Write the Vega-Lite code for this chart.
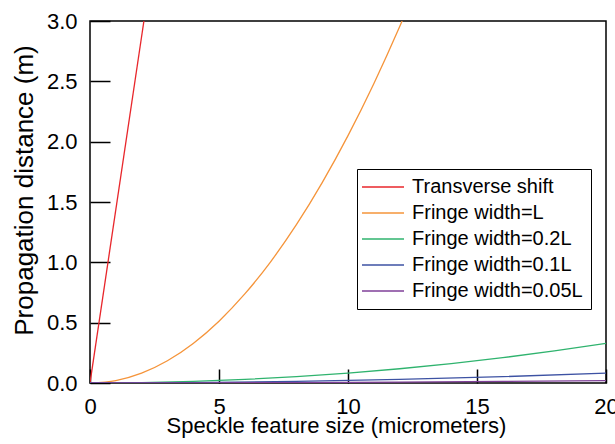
{
  "$schema": "https://vega.github.io/schema/vega-lite/v6.json",
  "width": 516,
  "height": 362,
  "autosize": "none",
  "padding": {"left": 90, "top": 21, "right": 9, "bottom": 61},
  "background": "white",
  "config": {
    "font": "Liberation Sans",
    "view": {"stroke": "black", "strokeWidth": 1.5},
    "axis": {"labelColor": "black", "titleColor": "black", "labelFont": "Liberation Sans", "titleFont": "Liberation Sans", "titleFontWeight": "normal"}
  },
  "data": {"values": [
    {"series": "Transverse shift", "x": 0, "y": 0},
    {"series": "Transverse shift", "x": 2.09, "y": 3.0},
    {"series": "Fringe width=L", "x": 0, "y": 0},
    {"series": "Fringe width=L", "x": 1, "y": 0.0205},
    {"series": "Fringe width=L", "x": 2, "y": 0.082},
    {"series": "Fringe width=L", "x": 3, "y": 0.1845},
    {"series": "Fringe width=L", "x": 4, "y": 0.328},
    {"series": "Fringe width=L", "x": 5, "y": 0.5125},
    {"series": "Fringe width=L", "x": 6, "y": 0.738},
    {"series": "Fringe width=L", "x": 7, "y": 1.0045},
    {"series": "Fringe width=L", "x": 8, "y": 1.312},
    {"series": "Fringe width=L", "x": 9, "y": 1.6605},
    {"series": "Fringe width=L", "x": 10, "y": 2.05},
    {"series": "Fringe width=L", "x": 11, "y": 2.4805},
    {"series": "Fringe width=L", "x": 12, "y": 2.952},
    {"series": "Fringe width=L", "x": 13, "y": 3.4645},
    {"series": "Fringe width=0.2L", "x": 0, "y": 0},
    {"series": "Fringe width=0.2L", "x": 2, "y": 0.00328},
    {"series": "Fringe width=0.2L", "x": 4, "y": 0.01312},
    {"series": "Fringe width=0.2L", "x": 6, "y": 0.02952},
    {"series": "Fringe width=0.2L", "x": 8, "y": 0.05248},
    {"series": "Fringe width=0.2L", "x": 10, "y": 0.082},
    {"series": "Fringe width=0.2L", "x": 12, "y": 0.11808},
    {"series": "Fringe width=0.2L", "x": 14, "y": 0.16072},
    {"series": "Fringe width=0.2L", "x": 16, "y": 0.20992},
    {"series": "Fringe width=0.2L", "x": 18, "y": 0.26568},
    {"series": "Fringe width=0.2L", "x": 20, "y": 0.328},
    {"series": "Fringe width=0.1L", "x": 0, "y": 0},
    {"series": "Fringe width=0.1L", "x": 4, "y": 0.00328},
    {"series": "Fringe width=0.1L", "x": 8, "y": 0.01312},
    {"series": "Fringe width=0.1L", "x": 12, "y": 0.02952},
    {"series": "Fringe width=0.1L", "x": 16, "y": 0.05248},
    {"series": "Fringe width=0.1L", "x": 20, "y": 0.082},
    {"series": "Fringe width=0.05L", "x": 0, "y": 0},
    {"series": "Fringe width=0.05L", "x": 4, "y": 0.00082},
    {"series": "Fringe width=0.05L", "x": 8, "y": 0.00328},
    {"series": "Fringe width=0.05L", "x": 12, "y": 0.00738},
    {"series": "Fringe width=0.05L", "x": 16, "y": 0.01312},
    {"series": "Fringe width=0.05L", "x": 20, "y": 0.0205}
  ]},
  "mark": {"type": "line", "clip": true, "strokeWidth": 1.3, "interpolate": "monotone"},
  "encoding": {
    "x": {"field": "x", "type": "quantitative", "scale": {"domain": [0, 20], "nice": false, "zero": false},
      "axis": {"orient": "bottom", "offset": -14, "values": [0, 5, 10, 15, 20], "grid": false, "tickSize": 14, "tickColor": "black", "tickWidth": 1.5, "domain": false, "labelPadding": 13, "labelFontSize": 22, "labelBaseline": "top", "labelFlush": false,
        "title": "Speckle feature size (micrometers)", "titleFontSize": 22, "titleBaseline": "alphabetic", "titleX": 246, "titleY": 63, "titlePadding": 0}},
    "y": {"field": "y", "type": "quantitative", "scale": {"domain": [0, 3], "nice": false},
      "axis": {"offset": -20, "tickCount": 6, "format": ".1f", "gridOpacity": 0, "tickSize": 20, "tickColor": "black", "tickWidth": 1.5, "domainOpacity": 0, "labelPadding": 13, "labelFontSize": 22,
        "title": "Propagation distance (m)", "titleFontSize": 26, "titleX": -78, "titleY": 169, "titleBaseline": "alphabetic"}},
    "color": {"field": "series", "type": "nominal",
      "scale": {"domain": ["Transverse shift", "Fringe width=L", "Fringe width=0.2L", "Fringe width=0.1L", "Fringe width=0.05L"],
                "range": ["#e8262b", "#f5943a", "#2fb36e", "#3d52a3", "#7f3f98"]},
      "legend": {"title": null, "orient": "none", "legendX": 267, "legendY": 148, "strokeColor": "black", "fillColor": "white", "padding": 8,
        "labelFontSize": 20, "labelLimit": 400, "labelColor": "black", "symbolType": "M-1.625,0H3.625", "symbolSize": 256, "symbolStrokeWidth": 1.3, "labelOffset": 27, "rowPadding": 6}}
  }
}
